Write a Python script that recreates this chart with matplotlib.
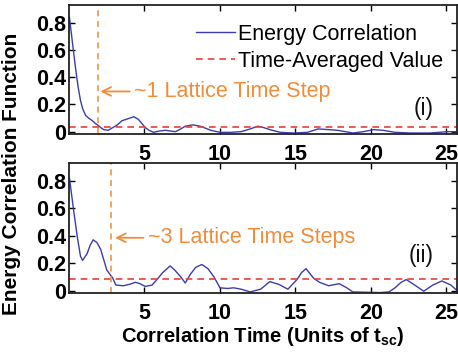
import matplotlib
matplotlib.use('Agg')
import matplotlib.pyplot as plt

plt.rcParams['font.family'] = ['Liberation Sans', 'DejaVu Sans']
plt.rcParams['mathtext.fontset'] = 'custom'
plt.rcParams['mathtext.bf'] = 'Liberation Sans:bold'
plt.rcParams['mathtext.rm'] = 'Liberation Sans'

# panel (i) - correlation curve
top_t = [0.03, 0.2, 0.43, 0.6, 0.76, 0.9, 1.1, 1.3, 1.55, 1.75, 1.95, 2.1, 2.3, 2.6, 2.9,
         3.2, 3.5, 3.9, 4.3, 4.6, 5.05, 5.3, 5.6, 6.0, 6.4, 6.7, 7.05, 7.4, 7.7, 8.2, 8.7,
         9.4, 10.0, 10.7, 11.4, 12.0, 12.5, 12.9, 13.3, 14.0, 14.9, 15.8, 16.5, 17.2, 17.8,
         18.3, 18.8, 19.5, 20.2, 20.8, 21.6, 22.6, 23.3, 23.9, 24.5, 25.1, 25.7]
top_c = [0.84, 0.68, 0.47, 0.33, 0.23, 0.17, 0.12, 0.10, 0.08, 0.06, 0.045, 0.03, 0.015, 0.01, 0.03,
         0.05, 0.08, 0.095, 0.11, 0.09, 0.03, 0.01, -0.005, 0.005, 0.01, 0.005, 0.0, 0.02, 0.04, 0.05, 0.04,
         0.01, -0.005, -0.005, 0.0, 0.02, 0.04, 0.03, 0.015, -0.005, -0.01, -0.005, 0.02, 0.015, 0.01,
         0.0, -0.01, 0.0, 0.015, 0.01, -0.005, -0.01, -0.01, -0.01, -0.005, 0.0, 0.0]
top_avg = 0.035
top_step = 1.9

# panel (ii)
bot_t = [0.03, 0.3, 0.55, 0.76, 0.9, 1.2, 1.4, 1.6, 1.85, 2.1, 2.5, 2.9, 3.1, 3.6, 4.0, 4.4, 4.7,
         5.05, 5.5, 5.9, 6.2, 6.7, 7.0, 7.4, 7.7, 8.05, 8.4, 8.8, 9.2, 9.6, 10.0, 10.5, 10.9, 11.4,
         12.0, 12.7, 13.3, 13.9, 14.5, 15.1, 15.4, 15.7, 16.2, 16.6, 17.2, 17.9, 18.4, 18.8, 19.5,
         20.6, 21.2, 21.6, 22.0, 22.35, 22.9, 23.5, 24.1, 24.7, 25.3, 25.7]
bot_c = [0.82, 0.59, 0.39, 0.25, 0.22, 0.27, 0.33, 0.37, 0.35, 0.3, 0.15, 0.09, 0.04, 0.035, 0.045, 0.06, 0.05,
         0.03, 0.04, 0.09, 0.13, 0.18, 0.15, 0.1, 0.055, 0.12, 0.17, 0.19, 0.16, 0.1, 0.02, 0.015, 0.02, 0.01,
         -0.01, 0.01, 0.065, 0.045, 0.01, 0.08, 0.13, 0.16, 0.09, 0.06, 0.035, 0.05, 0.02, -0.01, -0.012,
         -0.015, -0.01, 0.02, 0.06, 0.08, 0.04, -0.005, 0.04, 0.07, 0.04, 0.0]
bot_avg = 0.087
bot_step = 2.8

xticks = [5, 10, 15, 20, 25]
yticks = [0, 0.2, 0.4, 0.6, 0.8]
ytick_labels = ['0', '0.2', '0.4', '0.6', '0.8']

blue = '#3c3cae'
red = '#e8403a'
orange = '#f28c38'

fig = plt.figure(figsize=(4.58, 3.52), dpi=100)
ax1 = fig.add_axes([0.1507, 0.619, 0.847, 0.366])
ax2 = fig.add_axes([0.1507, 0.1676, 0.847, 0.369])

panels = [
    (ax1, top_t, top_c, top_avg, top_step, '~1 Lattice Time Step', (2.08, 0.296), (4.3, 0.296), '(i)', (23.5, 0.17)),
    (ax2, bot_t, bot_c, bot_avg, bot_step, '~3 Lattice Time Steps', (3.05, 0.385), (5.2, 0.385), '(ii)', (23.3, 0.255)),
]

for ax, t, c, avg, step, note, head, tail, tag, tagpos in panels:
    ax.plot(t, c, color=blue, lw=1.0, label='Energy Correlation')
    ax.axhline(avg, color=red, lw=1.2, ls=(0, (4, 3)), label='Time-Averaged Value')
    ax.axvline(step, color=orange, lw=1.1, ls=(0, (4, 3)))
    ax.annotate(note, xy=head, xytext=tail, color=orange, fontsize=15.5,
                ha='left', va='center',
                arrowprops=dict(arrowstyle='->', color=orange, lw=1.3, shrinkA=1, shrinkB=0))
    ax.text(tagpos[0], tagpos[1], tag, fontsize=16.5, ha='center', va='center', color='#111111')
    ax.set_xlim(0, 25.7)
    ax.set_ylim(-0.018, 0.93)
    ax.set_xticks(xticks)
    ax.set_yticks(yticks)
    ax.set_yticklabels(ytick_labels)
    ax.tick_params(direction='in', length=4, width=1, top=True, right=True,
                   labelsize=15.5, pad=2)
    ax.tick_params(axis='x', pad=7)
    for lab in ax.get_xticklabels() + ax.get_yticklabels():
        lab.set_fontweight('heavy')
    for sp in ax.spines.values():
        sp.set_linewidth(1.3)
        sp.set_color('#222222')

ax1.legend(loc='upper right', bbox_to_anchor=(0.975, 0.89), frameon=False, fontsize=15.5,
           handlelength=1.8, handletextpad=0.12, labelspacing=0.27, borderaxespad=0, borderpad=0.2)

fig.text(0.026, 0.505, 'Energy Correlation Function', rotation=90, fontsize=15,
         fontweight='bold', ha='center', va='center')
fig.text(0.574, 0.045, r'Correlation Time (Units of $\mathbf{t}_{\mathbf{sc}}$)', fontsize=14.5,
         fontweight='bold', ha='center', va='center')

fig.savefig('out.png', dpi=100)
